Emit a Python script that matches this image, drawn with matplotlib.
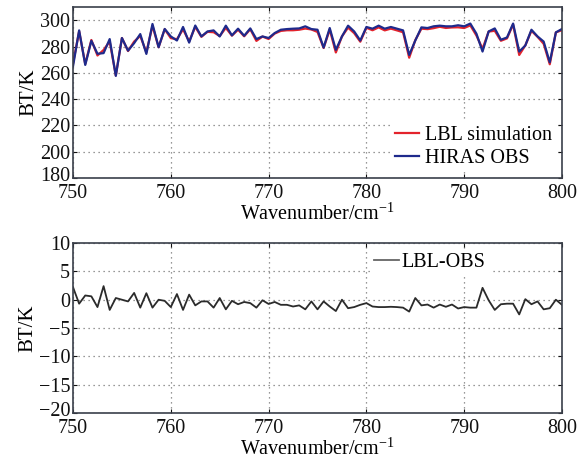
import numpy as np
import matplotlib
matplotlib.use("Agg")
import matplotlib.pyplot as plt
import matplotlib.transforms as mtransforms

plt.rcParams['font.family'] = ['Liberation Serif', 'DejaVu Serif']
plt.rcParams['mathtext.fontset'] = 'custom'
plt.rcParams['mathtext.rm'] = 'Liberation Serif'

# wavenumber grid: 750..800 cm-1, 0.625 cm-1 spacing (81 channels)
wavenumber = np.arange(750.0, 800.0 + 0.001, 0.625)

hiras_obs = [
    265.0, 292.3, 266.0, 284.4, 274.5, 275.0, 285.7, 257.7, 286.5, 276.9,
    282.6, 289.5, 274.4, 297.2, 279.5, 293.4, 287.7, 284.6, 294.9, 283.0,
    296.0, 287.7, 291.5, 292.3, 287.7, 295.9, 288.5, 293.6, 288.2, 293.8,
    285.7, 287.7, 286.5, 290.3, 292.8, 293.3, 293.6, 293.8, 295.4, 293.3,
    292.8, 279.2, 294.1, 277.5, 287.7, 295.9, 291.5, 284.6, 294.9, 293.6,
    295.9, 293.6, 294.9, 293.6, 292.3, 273.6, 284.6, 294.6, 294.1, 295.4,
    295.9, 295.4, 295.4, 296.2, 295.4, 297.5, 289.8, 276.2, 291.5, 293.8,
    285.2, 286.9, 297.5, 276.2, 280.8, 292.8, 287.7, 283.8, 268.0, 290.8,
    293.4,
]

lbl_minus_obs = [
    2.2, -0.7, 0.75, 0.6, -1.3, 2.4, -1.8, 0.3, 0.0, -0.3,
    1.2, -1.4, 1.15, -1.4, 0.0, -0.2, -1.3, 1.0, -1.8, 0.9,
    -1.0, -0.3, -0.3, -1.4, 0.3, -1.7, -0.2, -0.8, -0.4, -0.6,
    -1.4, -0.1, -0.75, -0.4, -0.9, -0.9, -1.2, -1.0, -1.7, -0.3,
    -1.7, -0.3, -1.2, -2.0, 0.0, -1.5, -1.3, -0.9, -0.6, -1.2,
    -1.3, -1.3, -1.25, -1.3, -1.4, -2.1, 0.3, -1.0, -0.85, -1.4,
    -0.85, -1.25, -0.85, -1.55, -1.3, -1.4, -1.4, 2.1, -0.1, -1.8,
    -0.8, -0.7, -0.7, -2.6, 0.1, -0.8, -0.3, -1.7, -1.5, 0.0,
    -0.9,
]

lbl_sim = np.array(hiras_obs) + np.array(lbl_minus_obs)

x_ticks = [750, 760, 770, 780, 790, 800]
top_yticks = [180, 200, 220, 240, 260, 280, 300]
bot_yticks = [-20, -15, -10, -5, 0, 5, 10]

fig = plt.figure(figsize=(5.87, 4.63), dpi=100)
ax1 = fig.add_axes([0.1244, 0.6156, 0.833, 0.369])
ax2 = fig.add_axes([0.1244, 0.108, 0.833, 0.367])

fs = 14.5
spine_col = '#3a3f4a'
for ax in (ax1, ax2):
    ax.grid(True, linestyle=(0, (1, 3)), color='#777777', linewidth=0.9)
    ax.set_xlim(750, 800)
    ax.set_xticks(x_ticks)
    ax.tick_params(direction='in', top=True, right=True, length=3,
                   labelsize=fs, colors='#111111')
    ax.tick_params(axis='x', pad=4)
    ax.tick_params(axis='y', pad=2)
    for s in ax.spines.values():
        s.set_color(spine_col)
        s.set_linewidth(1.2)
    ax.set_xlabel('Wavenumber/cm$^{-1}$', fontsize=fs, labelpad=0.5)
    ax.set_ylabel('BT/K', fontsize=fs + 0.5, labelpad=1)

ax1.plot(wavenumber, lbl_sim, color='#e3232c', lw=1.6, label='LBL simulation')
ax1.plot(wavenumber, hiras_obs, color='#1e2a8c', lw=1.6, label='HIRAS OBS')
ax1.set_ylim(180, 310)
ax1.set_yticks(top_yticks)
leg1 = ax1.legend(loc='lower right', fontsize=fs, frameon=True, framealpha=1,
                  edgecolor='none', handlelength=1.2, handletextpad=0.3,
                  borderaxespad=0.3, labelspacing=0.2, borderpad=0.2)

ax2.plot(wavenumber, lbl_minus_obs, color='#2b2b2b', lw=1.3, label='LBL-OBS')
ax2.set_ylim(-20, 10)
ax2.set_yticks(bot_yticks)
ax2.yaxis.set_major_formatter(matplotlib.ticker.FuncFormatter(
    lambda v, p: ('\u2212%d' % abs(v)) if v < 0 else '%d' % v))
leg2 = ax2.legend(loc='upper right', bbox_to_anchor=(0.86, 0.99), fontsize=fs,
                  frameon=True, framealpha=1, edgecolor='none',
                  handlelength=1.2, handletextpad=0.15, borderaxespad=0.2,
                  borderpad=0.2)
for line in leg2.get_lines():
    line.set_color('#666666')

# nudge the lowest y tick label up slightly so it clears the first x label
fig.canvas.draw()
for ax in (ax1, ax2):
    lbl = ax.get_yticklabels()[0]
    lbl.set_transform(lbl.get_transform() +
                      mtransforms.ScaledTranslation(0, 4 / 100, fig.dpi_scale_trans))

fig.savefig('out.png', dpi=100)
